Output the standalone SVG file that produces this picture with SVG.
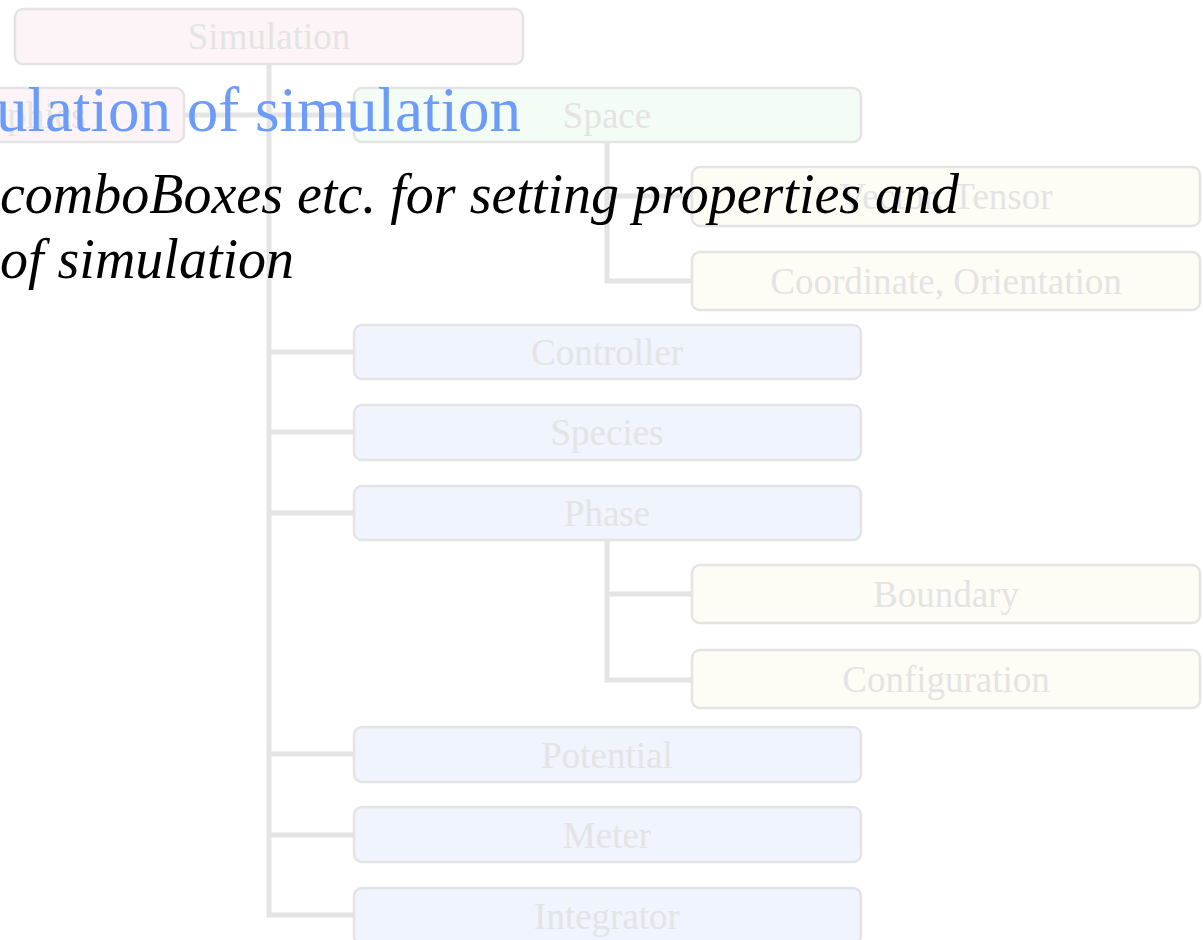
<svg xmlns="http://www.w3.org/2000/svg" width="1203" height="940" viewBox="0 0 1203 940">
  <style>
    .box { stroke: #e4e4e4; stroke-width: 2.5; }
    .pink { fill: #fdf4f7; }
    .green { fill: #f3fcf5; }
    .yellow { fill: #fefdf5; }
    .blue { fill: #eff4fd; }
    .label { font-family: "Liberation Serif", "Times New Roman", serif; font-size: 37px; fill: #e4e4e4; text-anchor: middle; }
    .edge { fill: none; stroke: #e4e4e4; stroke-width: 5; }
    .title { font-family: "Liberation Serif", "Times New Roman", serif; font-size: 63px; fill: #6b9cfb; }
    .note { font-family: "Liberation Serif", "Times New Roman", serif; font-style: italic; font-size: 56px; fill: #000000; }
  </style>

  <rect width="1203" height="940" fill="#ffffff"/>

  <!-- tree connectors -->
  <g id="connectors">
    <path class="edge" d="M269,64 V915 H354"/>
    <path class="edge" d="M184,115 H354"/>
    <path class="edge" d="M269,352 H354"/>
    <path class="edge" d="M269,432 H354"/>
    <path class="edge" d="M269,513 H354"/>
    <path class="edge" d="M269,754 H354"/>
    <path class="edge" d="M269,835 H354"/>
    <path class="edge" d="M607,142 V281 H692"/>
    <path class="edge" d="M607,196 H692"/>
    <path class="edge" d="M607,540 V680 H692"/>
    <path class="edge" d="M607,594 H692"/>
  </g>

  <g id="node-simulation">
    <rect class="box pink" x="15" y="9" width="508" height="55" rx="8"/>
    <text class="label" x="269" y="49">Simulation</text>
  </g>
  <g id="node-graphics">
    <rect class="box pink" x="-200" y="88" width="384" height="54" rx="8"/>
    <text class="label" x="-48" y="128" style="text-anchor:start">Graphics</text>
  </g>
  <g id="node-space">
    <rect class="box green" x="354" y="88" width="507" height="54" rx="8"/>
    <text class="label" x="607" y="128">Space</text>
  </g>
  <g id="node-vector">
    <rect class="box yellow" x="692" y="167" width="508" height="59" rx="8"/>
    <text class="label" x="946" y="209">Vector, Tensor</text>
  </g>
  <g id="node-coordinate">
    <rect class="box yellow" x="692" y="252" width="508" height="58" rx="8"/>
    <text class="label" x="946" y="294">Coordinate, Orientation</text>
  </g>
  <g id="node-controller">
    <rect class="box blue" x="354" y="325" width="507" height="54" rx="8"/>
    <text class="label" x="607" y="365">Controller</text>
  </g>
  <g id="node-species">
    <rect class="box blue" x="354" y="405" width="507" height="55" rx="8"/>
    <text class="label" x="607" y="445">Species</text>
  </g>
  <g id="node-phase">
    <rect class="box blue" x="354" y="486" width="507" height="54" rx="8"/>
    <text class="label" x="607" y="526">Phase</text>
  </g>
  <g id="node-boundary">
    <rect class="box yellow" x="692" y="565" width="508" height="58" rx="8"/>
    <text class="label" x="946" y="607">Boundary</text>
  </g>
  <g id="node-configuration">
    <rect class="box yellow" x="692" y="650" width="508" height="58" rx="8"/>
    <text class="label" x="946" y="692">Configuration</text>
  </g>
  <g id="node-potential">
    <rect class="box blue" x="354" y="727" width="507" height="55" rx="8"/>
    <text class="label" x="607" y="768">Potential</text>
  </g>
  <g id="node-meter">
    <rect class="box blue" x="354" y="807" width="507" height="55" rx="8"/>
    <text class="label" x="607" y="848">Meter</text>
  </g>
  <g id="node-integrator">
    <rect class="box blue" x="354" y="888" width="507" height="56" rx="8"/>
    <text class="label" x="607" y="929">Integrator</text>
  </g>

  <!-- overlaid captions -->
  <text class="title" x="521" y="131" text-anchor="end">ulation of simulation</text>
  <text class="note" x="0" y="213">comboBoxes etc. for setting properties and</text>
  <text class="note" x="0" y="278">of simulation</text>
</svg>
